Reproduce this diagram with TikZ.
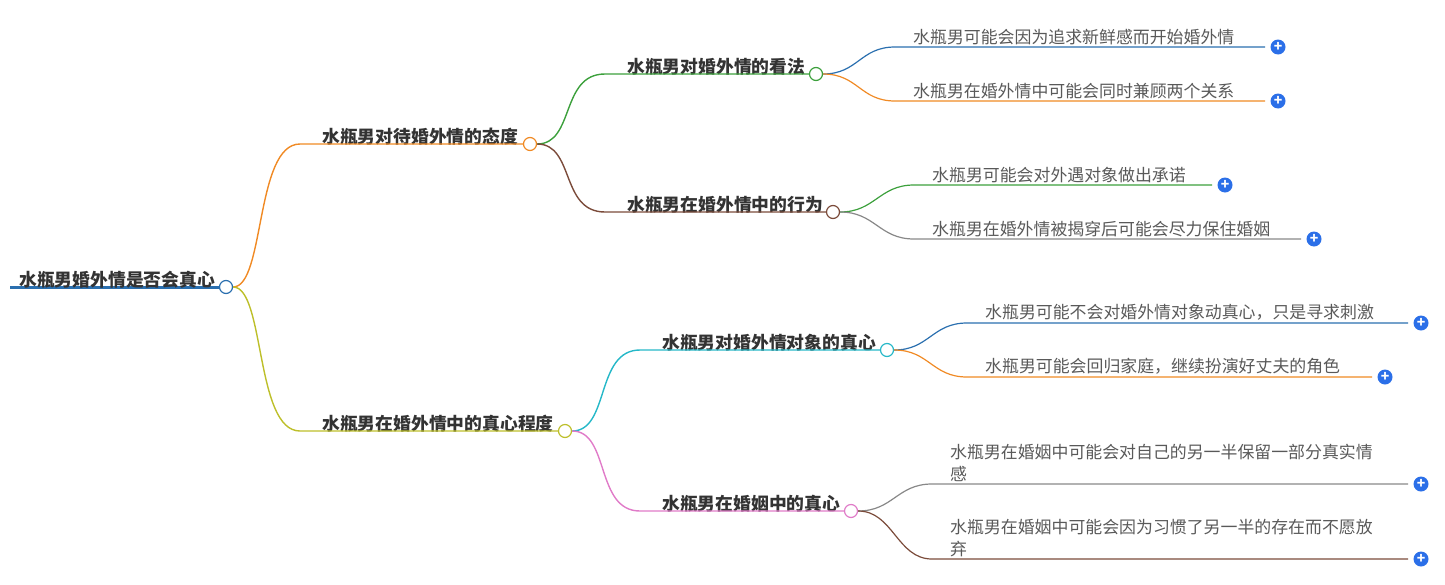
\documentclass[tikz,border=0pt]{standalone}
\usepackage{fontspec}
\setmainfont{Noto Sans CJK SC}
\usetikzlibrary{calc}
\begin{document}
\begin{tikzpicture}[x=1pt,y=-1pt,
 dot/.style={circle,draw=#1,fill=white,line width=1.2pt,minimum size=13pt,inner sep=0},
 plus/.style={circle,fill=plusblue,minimum size=15pt,inner sep=0,text=white,font=\fontsize{14}{14}\selectfont\bfseries},
 lbl/.style={anchor=south west,inner sep=1pt,text=black!80,font=\fontsize{17.8}{20}\selectfont\bfseries},
 leaf/.style={anchor=south west,inner sep=1pt,text=black!65,font=\fontsize{16.9}{22}\selectfont,align=left},
 br/.style={line width=1.4pt,draw=#1}]
\definecolor{plusblue}{HTML}{2B6FE8}
\definecolor{cblue}{HTML}{2A6FAF}
\definecolor{corange}{HTML}{F08A24}
\definecolor{colive}{HTML}{BDBF2A}
\definecolor{cgreen}{HTML}{3CA03C}
\definecolor{cbrown}{HTML}{7B4B3A}
\definecolor{ccyan}{HTML}{26B8C8}
\definecolor{cpink}{HTML}{E07BC8}
\definecolor{cgray}{HTML}{888888}
\useasboundingbox (0,0) rectangle (1445,584);
% root
\draw[cblue,line width=3pt] (10,287) -- (220,287);
\node[dot=cblue] (r) at (226,287) {};
\node[lbl] (rt) at (18,289) {水瓶男婚外情是否会真心};
% level 1
\node[dot=corange] (a) at (530,144) {};
\node[lbl] (at) at (321,146) {水瓶男对待婚外情的态度};
\draw[br=corange] (r.east) .. controls (265,287) and (255,144) .. (300,144) -- (a.west);
\node[dot=colive] (b) at (565,431) {};
\node[lbl] (bt) at (321,433) {水瓶男在婚外情中的真心程度};
\draw[br=colive] (r.east) .. controls (265,287) and (255,431) .. (300,431) -- (b.west);
% level 2
\node[dot=cgreen] (a1) at (816,74) {};
\node[lbl] (a1t) at (626,76) {水瓶男对婚外情的看法};
\draw[br=cgreen] (a.east) .. controls (575,144) and (560,74) .. (605,74) -- (a1.west);
\node[dot=cbrown] (a2) at (833,212) {};
\node[lbl] (a2t) at (626,214) {水瓶男在婚外情中的行为};
\draw[br=cbrown] (a.east) .. controls (575,144) and (560,212) .. (605,212) -- (a2.west);
\node[dot=ccyan] (b1) at (887,350) {};
\node[lbl] (b1t) at (661,352) {水瓶男对婚外情对象的真心};
\draw[br=ccyan] (b.east) .. controls (610,431) and (595,350) .. (640,350) -- (b1.west);
\node[dot=cpink] (b2) at (851,511) {};
\node[lbl] (b2t) at (661,513) {水瓶男在婚姻中的真心};
\draw[br=cpink] (b.east) .. controls (610,431) and (595,511) .. (640,511) -- (b2.west);
% leaves
\newcommand{\leafbr}[8]{%
 \node[leaf] (#2t) at (#5+17,#4-1) {#8};
 \node[plus] (#2) at (#7,#4) {+};
 \draw[line width=1.2pt,draw=#3] (#1.east) .. controls ($(#1.east)+(35,0)$) and (#5-35,#4) .. (#5,#4) -- (#6,#4);}
\leafbr{a1}{l1}{cblue}{47}{895}{1265}{1278}{水瓶男可能会因为追求新鲜感而开始婚外情}
\leafbr{a1}{l2}{corange}{101}{895}{1265}{1278}{水瓶男在婚外情中可能会同时兼顾两个关系}
\leafbr{a2}{l3}{cgreen}{185}{914}{1212}{1225}{水瓶男可能会对外遇对象做出承诺}
\leafbr{a2}{l4}{cgray}{239}{914}{1301}{1314}{水瓶男在婚外情被揭穿后可能会尽力保住婚姻}
\leafbr{b1}{l5}{cblue}{323}{967}{1408}{1421}{水瓶男可能不会对婚外情对象动真心，只是寻求刺激}
\leafbr{b1}{l6}{corange}{377}{967}{1372}{1385}{水瓶男可能会回归家庭，继续扮演好丈夫的角色}
\leafbr{b2}{l7}{cgray}{484}{932}{1408}{1421}{水瓶男在婚姻中可能会对自己的另一半保留一部分真实情\\感}
\leafbr{b2}{l8}{cbrown}{559}{932}{1408}{1421}{水瓶男在婚姻中可能会因为习惯了另一半的存在而不愿放\\弃}
\end{tikzpicture}
\end{document}
